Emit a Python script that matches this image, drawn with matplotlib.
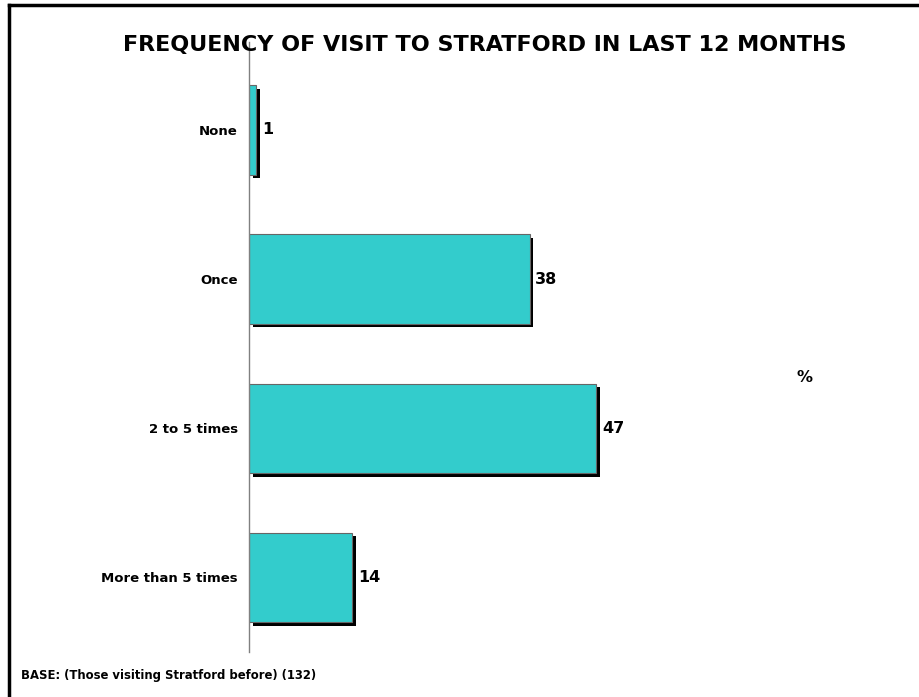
import matplotlib
matplotlib.use("Agg")
import matplotlib.pyplot as plt
import matplotlib.patheffects as pe
from matplotlib.lines import Line2D

CATEGORIES = ["None", "Once", "2 to 5 times", "More than 5 times"]
VALUES = [1, 38, 47, 14]
TITLE = "FREQUENCY OF VISIT TO STRATFORD IN LAST 12 MONTHS"
BASE = "BASE: (Those visiting Stratford before) (132)"

W, H = 920, 697
fig = plt.figure(figsize=(W / 100, H / 100), dpi=100)

# frame lines (top and left only are visible in the reference)
fig.add_artist(Line2D([9.5 / W, 9.5 / W], [0, 1 - 5 / H], color="black", lw=2.5, transform=fig.transFigure))
fig.add_artist(Line2D([9.5 / W, 1], [1 - 5 / H, 1 - 5 / H], color="black", lw=2.5, transform=fig.transFigure))

ax = fig.add_axes([249 / W, 1 - 652 / H, (880 - 249) / W, (652 - 42) / H])
ypos = list(range(len(CATEGORIES)))
bars = ax.barh(ypos, VALUES, height=0.6, color="#33CCCC", edgecolor="#666666", linewidth=0.8)
for b in bars:
    b.set_path_effects([pe.SimplePatchShadow(offset=(2.6, -2.6), shadow_rgbFace="black", alpha=1.0), pe.Normal()])

ax.set_xlim(0, (880 - 249) / 7.39)
ax.set_ylim(3.5, -0.59)
ax.set_yticks(ypos)
ax.set_yticklabels(CATEGORIES, fontsize=9.5, fontweight="bold")
ax.tick_params(axis="y", length=0, pad=8)
ax.set_xticks([])
for s in ["top", "right", "bottom"]:
    ax.spines[s].set_visible(False)
ax.spines["left"].set_color("#808080")
ax.spines["left"].set_linewidth(1)

for y, v in zip(ypos, VALUES):
    ax.text(v + 0.75, y, str(v), va="center", ha="left", fontsize=11.5, fontweight="bold")

fig.text(485 / W, 1 - 45 / H, TITLE, ha="center", va="center", fontsize=16, fontweight="bold")
fig.text(805 / W, 1 - 378 / H, "%", ha="center", va="center", fontsize=11.5, fontweight="bold")
fig.text(21 / W, 1 - 675 / H, BASE, ha="left", va="center", fontsize=8.4, fontweight="bold")

fig.savefig("out.png", dpi=100)
